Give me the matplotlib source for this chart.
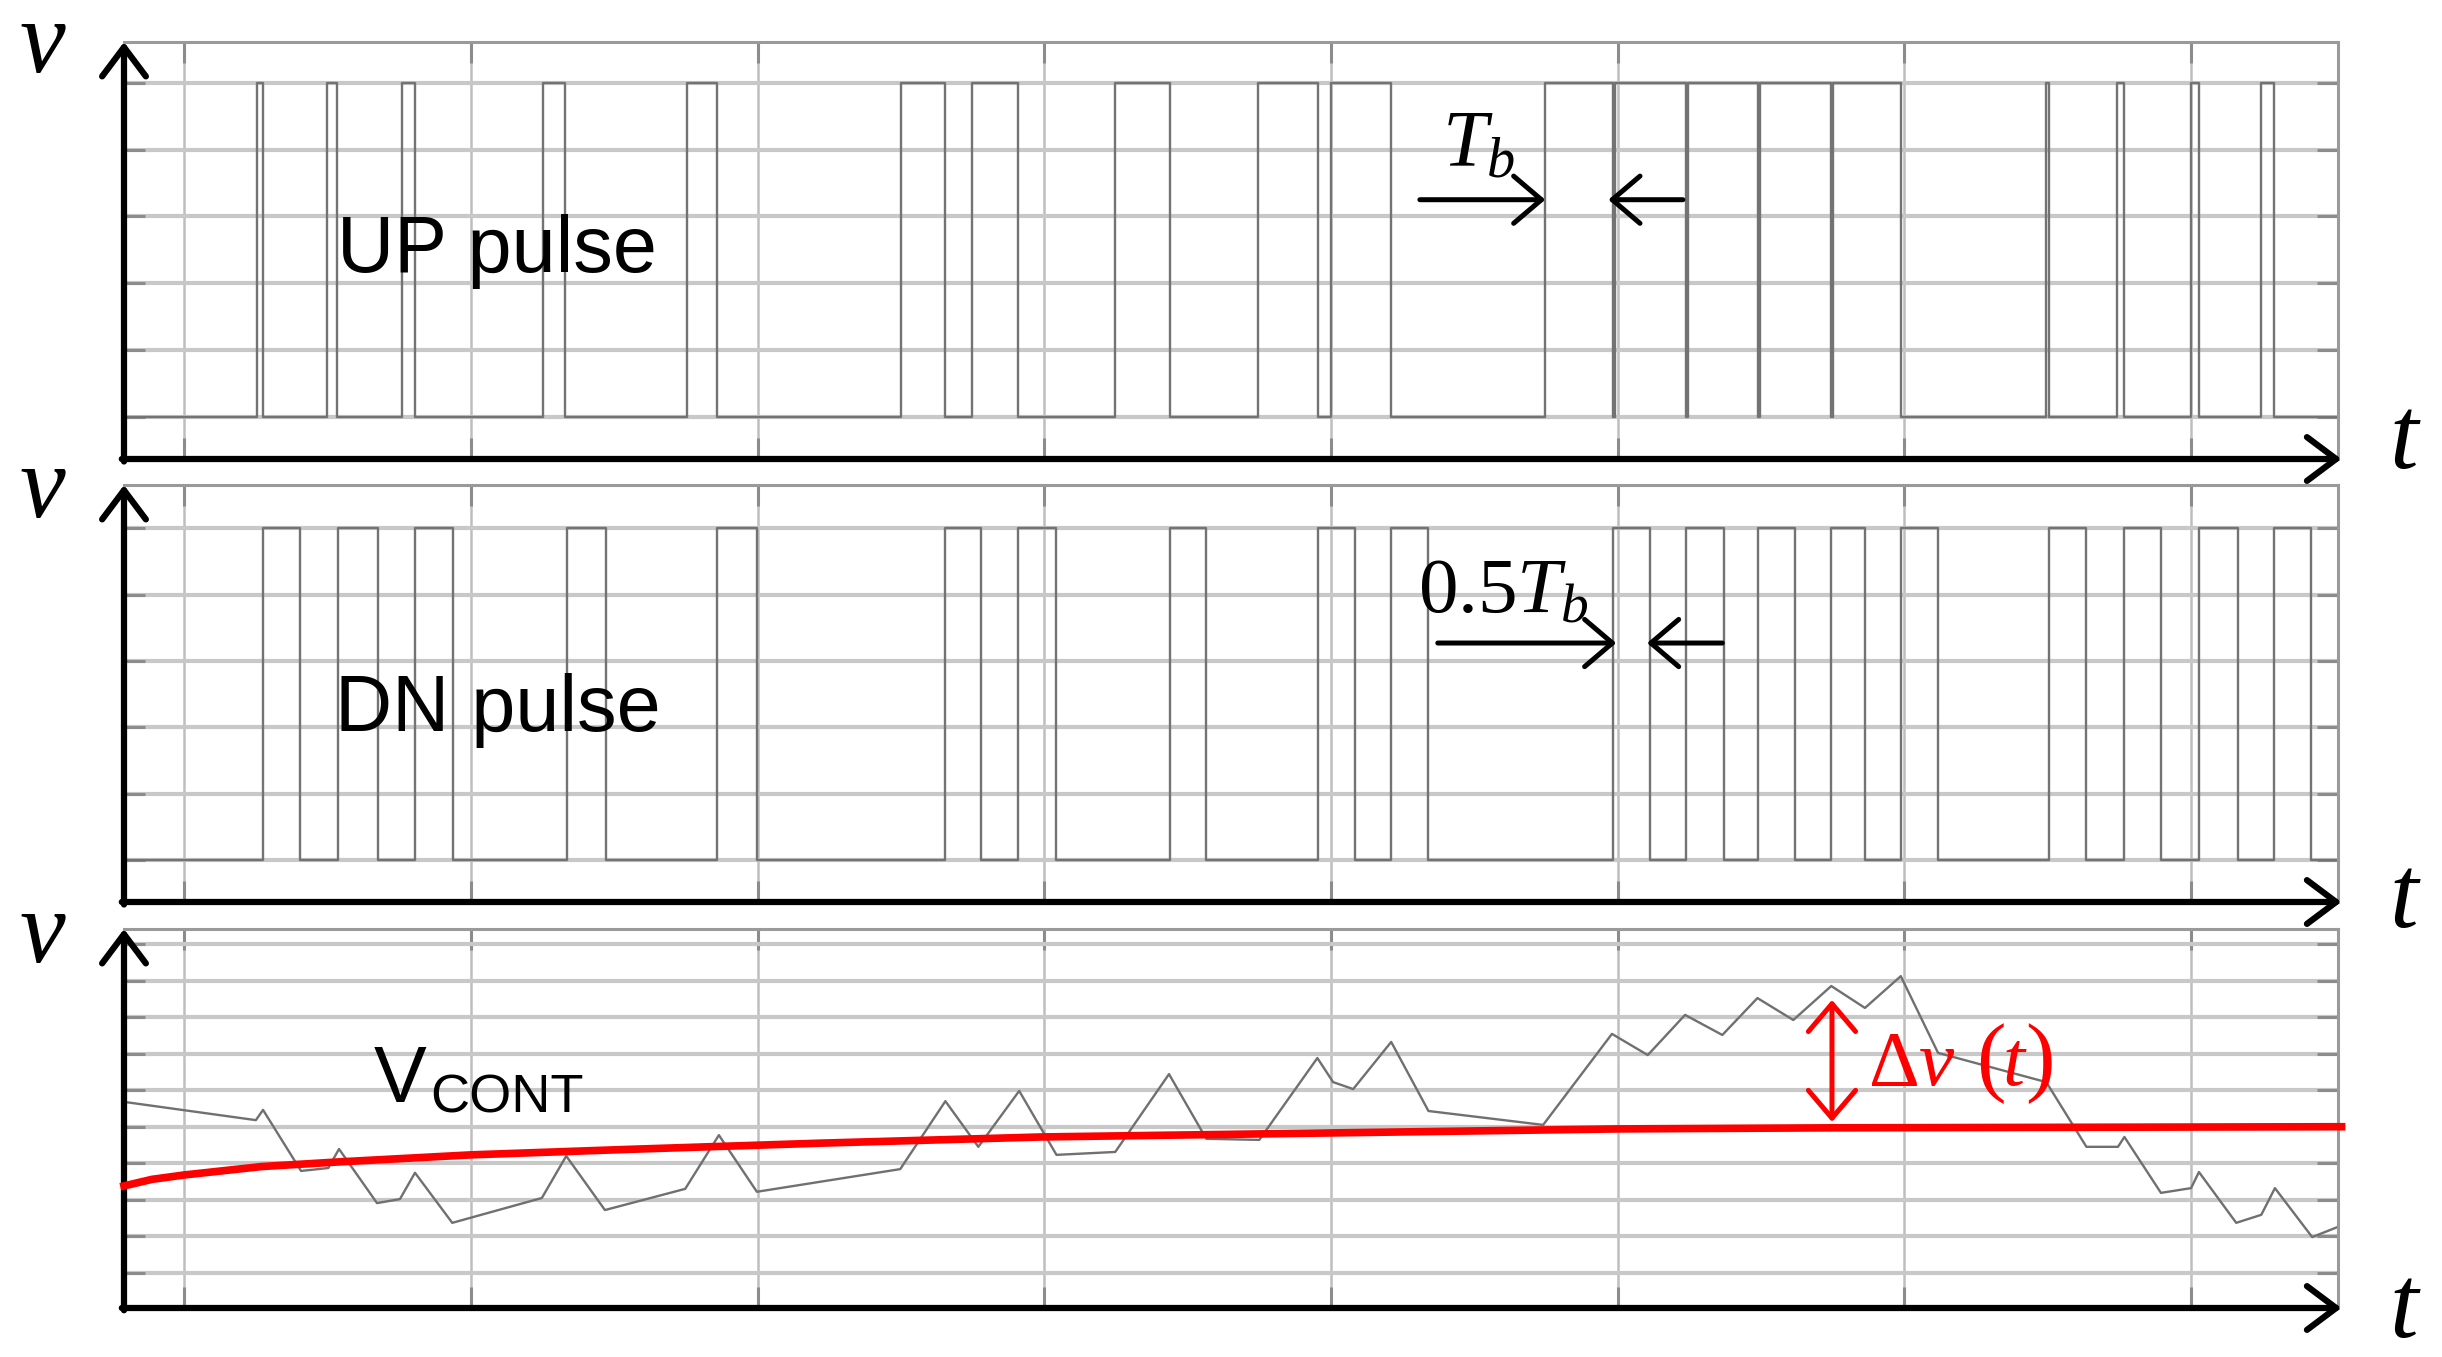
import matplotlib
matplotlib.use("Agg")
import matplotlib.pyplot as plt

plt.rcParams["mathtext.fontset"] = "custom"
plt.rcParams["mathtext.rm"] = "Liberation Serif"
plt.rcParams["mathtext.it"] = "Liberation Serif:italic"
plt.rcParams["mathtext.bf"] = "Liberation Serif:bold"
plt.rcParams["font.family"] = ["Liberation Sans", "DejaVu Sans"]

W, H = 2442, 1357

# time axis in units of bit period Tb; vertical grid every 4 Tb
t_min, t_max = -0.84, 30.05
grid_t = [0, 4, 8, 12, 16, 20, 24, 28]

# UP pulse (rise, fall) times
up_rise = [1.01, 1.99, 3.04, 5.00, 7.01, 10.00, 10.99, 12.99, 14.98, 16.00,
           18.99, 19.96, 20.98, 21.99, 23.01, 25.97, 26.97, 28.00, 28.98]
up_fall = [1.10, 2.13, 3.22, 5.31, 7.44, 10.62, 11.64, 13.75, 15.82, 16.84,
           19.93, 20.95, 21.96, 22.98, 23.95, 26.02, 27.06, 28.11, 29.16]

# DN pulse (rise, fall) times
dn_rise = [1.10, 2.14, 3.22, 5.34, 7.44, 10.61, 11.64, 13.75, 15.82, 16.84,
           19.94, 20.95, 21.96, 22.97, 23.95, 26.02, 27.06, 28.11, 29.16]
dn_fall = [1.62, 2.70, 3.75, 5.89, 7.99, 11.12, 12.16, 14.26, 16.33, 17.36,
           20.45, 21.48, 22.47, 23.45, 24.47, 26.53, 27.58, 28.65, 29.68]
pulse_low, pulse_high = 0, 5

# control voltage VCONT
vcont_t = [-0.84, 1.00, 1.10, 1.63, 2.01, 2.16, 2.69, 3.01, 3.22, 3.74,
           4.99, 5.33, 5.87, 6.99, 7.46, 7.99, 9.99, 10.62, 11.08, 11.65,
           12.17, 12.99, 13.74, 14.26, 15.00, 15.81, 16.03, 16.31, 16.84, 17.36,
           18.96, 19.92, 20.42, 20.94, 21.46, 21.95, 22.45, 22.98, 23.45, 23.95,
           24.47, 25.98, 26.54, 26.98, 27.07, 27.58, 28.00, 28.11, 28.63, 28.98,
           29.17, 29.69, 30.05]
vcont_v = [4.68, 4.18, 4.46, 2.79, 2.87, 3.39, 1.91, 2.02, 2.74, 1.37,
           2.05, 3.20, 1.72, 2.30, 3.77, 2.22, 2.84, 4.70, 3.45, 4.98,
           3.23, 3.31, 5.44, 3.67, 3.64, 5.88, 5.22, 5.03, 6.32, 4.43,
           4.05, 6.54, 5.96, 7.06, 6.51, 7.52, 6.92, 7.85, 7.25, 8.12,
           6.02, 5.22, 3.45, 3.45, 3.72, 2.19, 2.32, 2.76, 1.37, 1.59,
           2.32, 0.98, 1.26]

# average (red) curve
ref_t = [-0.84, -0.45, 0.00, 1.08, 2.18, 4.00, 6.19, 8.87, 11.96, 16.00, 20.00, 23.00, 30.10]
ref_v = [2.38, 2.56, 2.68, 2.91, 3.04, 3.23, 3.38, 3.55, 3.72, 3.83, 3.94, 3.97, 4.00]

# delta-v marker
dv_t, dv_lo, dv_hi = 22.99, 4.13, 7.47

fig = plt.figure(figsize=(W / 100, H / 100), dpi=100)


def px_axes(top, bottom, left=124, right=2338):
    return fig.add_axes([left / W, 1 - bottom / H, (right - left) / W, (bottom - top) / H])


ax1 = px_axes(42, 459)
ax2 = px_axes(485, 902)
ax3 = px_axes(929, 1308)
axes = [ax1, ax2, ax3]
ylims = [(-0.63, 5.61), (-0.63, 5.65), (-0.96, 9.41)]
yticks = [list(range(0, 6)), list(range(0, 6)), list(range(0, 10))]

axis_arrow = dict(arrowstyle="->,head_length=1.0,head_width=0.75", lw=4.5,
                  color="black", shrinkA=0, shrinkB=0, mutation_scale=21)

for ax, yl, yt in zip(axes, ylims, yticks):
    ax.set_xlim(t_min, t_max)
    ax.set_ylim(*yl)
    ax.set_xticks(grid_t)
    ax.set_yticks(yt)
    ax.tick_params(direction="in", length=15, width=2.2, color="#8c8c8c",
                   left=True, right=True, top=True, bottom=True,
                   labelleft=False, labelbottom=False)
    ax.grid(axis="y", color="#c8c8c8", lw=3.0)
    ax.grid(axis="x", color="#bebebe", lw=1.8)
    ax.set_axisbelow(True)
    for s in ["top", "right"]:
        ax.spines[s].set_color("#9a9a9a")
        ax.spines[s].set_linewidth(2.2)
    for s in ["left", "bottom"]:
        ax.spines[s].set_visible(False)
    ax.annotate("", xy=(1.0015, 0), xytext=(-0.001, 0), xycoords="axes fraction",
                arrowprops=axis_arrow, annotation_clip=False)
    ax.annotate("", xy=(0, 1), xytext=(0, -0.006), xycoords="axes fraction",
                arrowprops=axis_arrow, annotation_clip=False)


def step_trace(rises, falls):
    xs, ys = [t_min], [pulse_low]
    for r, f in zip(rises, falls):
        xs += [r, r, f, f]
        ys += [pulse_low, pulse_high, pulse_high, pulse_low]
    xs.append(t_max)
    ys.append(pulse_low)
    return xs, ys


trace_col = "#737373"
x, y = step_trace(up_rise, up_fall)
ax1.plot(x, y, color=trace_col, lw=1.7, zorder=2)
x, y = step_trace(dn_rise, dn_fall)
ax2.plot(x, y, color=trace_col, lw=1.7, zorder=2)

ax3.plot(vcont_t, vcont_v, color="#707070", lw=1.7, zorder=2)
ax3.plot(ref_t, ref_v, color="#ff0000", lw=5.5, zorder=3, clip_on=False)

# text labels
ax1.text(2.13, 2.17, "UP pulse", fontsize=57, ha="left", va="baseline")
ax2.text(2.10, 1.95, "DN pulse", fontsize=57, ha="left", va="baseline")
ax3.text(2.65, 4.69, "V", fontsize=57, ha="left", va="baseline")
ax3.text(3.43, 4.38, "CONT", fontsize=39, ha="left", va="baseline")

# Tb annotation
ann_arrow = dict(arrowstyle="->,head_length=1.0,head_width=0.85", lw=3.6,
                 color="black", shrinkA=0, shrinkB=0, mutation_scale=20)
ax1.annotate("", xy=(18.99, 3.25), xytext=(17.24, 3.25), arrowprops=ann_arrow)
ax1.annotate("", xy=(19.87, 3.25), xytext=(20.91, 3.25), arrowprops=ann_arrow)
ax1.text(17.55, 3.75, r"$T_b$", fontsize=58, ha="left", va="baseline")

ax2.annotate("", xy=(19.98, 3.27), xytext=(17.49, 3.27), arrowprops=ann_arrow)
ax2.annotate("", xy=(20.41, 3.27), xytext=(21.46, 3.27), arrowprops=ann_arrow)
ax2.text(17.22, 3.73, r"$\mathit{0.5}T_b$", fontsize=57, ha="left", va="baseline")

# delta v annotation
dv_arrow = dict(arrowstyle="<->,head_length=1.0,head_width=0.85", lw=3.6,
                color="#ff0000", shrinkA=0, shrinkB=0, mutation_scale=20)
ax3.annotate("", xy=(dv_t, dv_hi), xytext=(dv_t, dv_lo), arrowprops=dv_arrow, zorder=4)
red = "#ff0000"
ax3.text(23.49, 5.14, r"$\Delta v$", fontsize=57, color=red, ha="left", va="baseline", zorder=4)
ax3.text(25.00, 5.14, "(", fontsize=64, color=red, family="Liberation Serif",
         ha="left", va="baseline", zorder=4)
ax3.text(25.36, 5.14, r"$t$", fontsize=57, color=red, ha="left", va="baseline", zorder=4)
ax3.text(25.68, 5.14, ")", fontsize=64, color=red, family="Liberation Serif",
         ha="left", va="baseline", zorder=4)

# axis letters
for yb in [72, 517, 962]:
    fig.text(43 / W, 1 - yb / H, r"$v$", fontsize=74, ha="center", va="baseline")
for yb in [468, 927, 1337]:
    fig.text(2405 / W, 1 - yb / H, r"$t$", fontsize=74, ha="center", va="baseline")

fig.savefig("out.png", dpi=100, facecolor="white")
